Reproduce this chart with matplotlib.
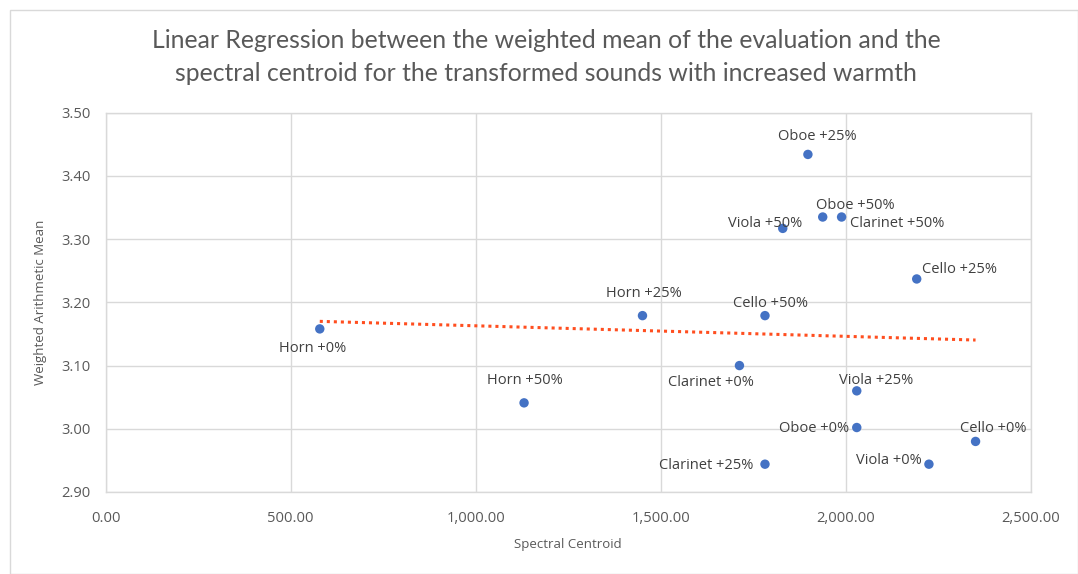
import numpy as np
import matplotlib
matplotlib.use("Agg")
import matplotlib.pyplot as plt
from matplotlib.patches import Rectangle
from matplotlib.ticker import FuncFormatter

labels = ["Horn +0%", "Horn +25%", "Horn +50%",
          "Cello +0%", "Cello +25%", "Cello +50%",
          "Viola +0%", "Viola +25%", "Viola +50%",
          "Oboe +0%", "Oboe +25%", "Oboe +50%",
          "Clarinet +0%", "Clarinet +25%", "Clarinet +50%"]
centroid = [579, 1451, 1131,
            2351, 2192, 1782,
            2225, 2030, 1830,
            2030, 1898, 1938,
            1713, 1782, 1989]
mean_eval = [3.158, 3.179, 3.041,
             2.980, 3.237, 3.179,
             2.944, 3.060, 3.317,
             3.002, 3.434, 3.335,
             3.100, 2.944, 3.335]

# label offsets (pixels) and alignment
offsets = {
    "Horn +0%": (-7, -20, "center"),
    "Horn +25%": (1, 22, "center"),
    "Horn +50%": (1, 22, "center"),
    "Cello +0%": (18, 13, "center"),
    "Cello +25%": (5, 9, "left"),
    "Cello +50%": (6, 12, "center"),
    "Viola +0%": (-7, 4, "right"),
    "Viola +25%": (19, 10, "center"),
    "Viola +50%": (20, 5, "right"),
    "Oboe +0%": (-8, -1, "right"),
    "Oboe +25%": (9, 18, "center"),
    "Oboe +50%": (-7, 12, "left"),
    "Clarinet +0%": (-29, -17, "center"),
    "Clarinet +25%": (-12, -1, "right"),
    "Clarinet +50%": (8, -6, "left"),
}

W, H = 1078, 574
fig = plt.figure(figsize=(W / 100, H / 100), dpi=100)
fig.patches.append(Rectangle((10 / W, 0), (W - 10) / W, (H - 10) / H, transform=fig.transFigure,
                             fill=False, edgecolor="#D9D9D9", linewidth=1))
ax = fig.add_axes([105.5 / W, 1 - 492 / H, (1030.7 - 105.5) / W, (492 - 112.7) / H])

ax.set_xlim(0, 2500)
ax.set_ylim(2.90, 3.50)
ax.set_xticks(np.arange(0, 2501, 500))
ax.set_yticks(np.arange(2.90, 3.501, 0.10))
ax.xaxis.set_major_formatter(FuncFormatter(lambda v, p: f"{v:,.2f}"))
ax.yaxis.set_major_formatter(FuncFormatter(lambda v, p: f"{v:.2f}"))
ax.grid(True, color="#D9D9D9", linewidth=1)
ax.set_axisbelow(True)
for s in ax.spines.values():
    s.set_color("#D9D9D9")
    s.set_linewidth(1)
ax.tick_params(length=0, labelsize=10.6, labelcolor="#595959")
ax.tick_params(axis="x", pad=14)
ax.tick_params(axis="y", pad=11)
for t in ax.get_xticklabels() + ax.get_yticklabels():
    t.set_family("Open Sans")

ax.scatter(centroid, mean_eval, s=46, color="#4472C4", zorder=3, edgecolors="none")

x = np.array(centroid, dtype=float)
y = np.array(mean_eval, dtype=float)
m, b = np.polyfit(x, y, 1)
xs = np.array([x.min(), x.max()])
ax.plot(xs, m * xs + b, linestyle=(0, (1, 1.3)), color="#FF4E1F", linewidth=2.2, zorder=2)

for lab, cx, cy in zip(labels, centroid, mean_eval):
    dx, dy, ha = offsets[lab]
    ax.annotate(lab, (cx, cy), xytext=(dx, dy), textcoords="offset pixels",
                ha=ha, va="center", fontsize=10.5, color="#404040", family="Open Sans", zorder=4)

ax.set_xlabel("Spectral Centroid", fontsize=9.5, color="#595959", family="Open Sans", labelpad=8)
ax.set_ylabel("Weighted Arithmetic Mean", fontsize=9.5, color="#595959", family="Open Sans", labelpad=10)

fig.text(546 / W, 1 - 57 / H,
         "Linear Regression between the weighted mean of the evaluation and the\n"
         "spectral centroid for the transformed sounds with increased warmth",
         ha="center", va="center", fontsize=17.8, color="#595959", family="Lato",
         linespacing=1.5)

fig.savefig("out.png", dpi=100)
